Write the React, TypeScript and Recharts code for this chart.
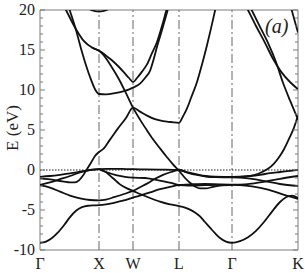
import { LineChart, Line, XAxis, YAxis, ReferenceLine, ReferenceArea } from "recharts";

// k positions of the high-symmetry points along the path and their labels
const K_TICKS = [0, 59, 93, 139, 192, 258];
const K_LABELS = ["Γ", "X", "W", "L", "Γ", "K"];
const E_MAJOR = [-10, -5, 0, 5, 10, 15, 20];
const E_MINOR = Array.from({ length: 31 }, (_, i) => i - 10);

// bands as [k, E(eV)]
const band1: [number, number][] = [[0, -9.1], [6, -8.95], [12, -8.5], [18, -7.8], [24, -6.9], [30, -5.9], [36, -5.1], [42, -4.65], [48, -4.47], [54, -4.42], [59, -4.4], [66, -4.3], [74, -4.1], [84, -3.8], [93, -3.45], [100, -3.2], [110, -2.8], [120, -2.4], [130, -2.1], [139, -1.9], [150, -1.95], [165, -1.9], [180, -1.85], [192, -1.85], [200, -1.88], [212, -2.05], [228, -2.45], [245, -3.15], [258, -3.6]];
const band2: [number, number][] = [[0, -1.9], [10, -2.2], [20, -2.7], [30, -3.2], [40, -3.55], [50, -3.75], [59, -3.8], [66, -3.7], [74, -3.4], [84, -3.0], [93, -2.6], [100, -2.15], [107, -1.7], [115, -1.1], [123, -0.6], [131, -0.25], [139, 0], [148, -0.3], [157, -0.55], [166, -0.75], [175, -0.83], [184, -0.85], [192, -0.85], [200, -0.85], [210, -0.75], [220, -0.6], [230, -0.4], [240, -0.25], [250, -0.1], [258, 0]];
const band3: [number, number][] = [[0, -1.85], [10, -1.55], [20, -1.15], [30, -0.75], [40, -0.3], [48, -0.05], [54, 0.07], [59, 0.1], [65, -0.2], [70, -0.7], [75, -1.25], [80, -1.8], [87, -2.3], [93, -2.6], [100, -3.0], [110, -3.5], [120, -3.95], [130, -4.3], [139, -4.5], [145, -4.7], [150, -4.95], [155, -5.3], [160, -5.8], [165, -6.5], [170, -7.2], [175, -7.9], [180, -8.5], [186, -8.95], [192, -9.1], [200, -8.9], [208, -8.4], [216, -7.6], [224, -6.5], [232, -5.2], [240, -4.0], [246, -3.4], [252, -3.2], [258, -3.5]];
const band4: [number, number][] = [[0, -0.85], [10, -0.75], [20, -0.6], [30, -0.42], [40, -0.22], [50, -0.02], [59, 0.1], [66, 0.15], [76, 0.15], [86, 0.12], [93, 0.1], [105, 0.08], [120, 0.05], [139, 0], [148, -0.35], [157, -0.62], [166, -0.82], [175, -0.9], [184, -0.92], [192, -0.92], [200, -0.95], [212, -1.1], [225, -1.4], [240, -1.75], [258, -2.0]];
const band5: [number, number][] = [[59, 0.1], [66, -0.25], [72, -0.5], [77, -0.66], [85, -0.85], [93, -0.95], [105, -1.0], [115, -1.2], [125, -1.45], [132, -1.65], [139, -1.85], [150, -1.8], [165, -1.75], [180, -1.8], [192, -1.82], [200, -1.82], [212, -1.7], [225, -1.45], [240, -1.1], [258, -0.75]];
const band6: [number, number][] = [[0, -1.05], [8, -1.15], [16, -1.3], [24, -1.45], [30, -1.55], [35, -1.55], [39, -1.3], [43, -0.7], [47, 0.1], [51, 0.9], [55, 1.75], [59, 2.25], [63, 2.6], [70, 3.8], [78, 5.2], [86, 6.5], [93, 7.8], [100, 7.3], [107, 6.8], [115, 6.35], [123, 6.1], [131, 6.0], [139, 5.9], [143, 6.7], [147, 7.7], [151, 9.0], [157, 11.0], [162, 13.2], [167, 15.6], [171, 17.7], [175, 19.9], [179, 22]];
const band7: [number, number][] = [[16, 22.5], [26, 20.0], [36, 17.6], [44, 16.1], [52, 15.3], [59, 14.9], [63, 14.45], [68, 13.6], [74, 12.4], [80, 11.1], [86, 9.6], [93, 7.8], [100, 6.3], [107, 4.95], [113, 3.85], [120, 2.7], [127, 1.6], [133, 0.7], [139, -0.1], [145, -1.0], [150, -1.6], [155, -2.05], [160, -2.3], [166, -2.3], [173, -2.1], [180, -1.95], [192, -1.85]];
const band8: [number, number][] = [[52, 15.3], [59, 14.9], [63, 14.6], [68, 14.1], [73, 13.6], [78, 13.0], [84, 12.2], [89, 11.5], [93, 11.0], [97, 11.5], [102, 12.3], [107, 13.2], [112, 14.6], [117, 16.0], [122, 18.0], [126, 19.8], [130, 21.6]];
const band9: [number, number][] = [[20, 24.0], [29.7, 20.0], [36, 17.5], [41, 15.2], [46, 13.1], [51, 11.3], [55, 10.1], [59, 9.5], [66, 9.45], [75, 9.6], [84, 9.85], [93, 10.3], [100, 10.8], [105, 11.5], [110, 12.4], [114, 14.0], [117, 15.4], [122, 17.5], [127, 19.7], [131, 21.5]];
const band10: [number, number][] = [[45, 21.5], [51, 20.0], [59, 19.8], [67, 20.0], [73, 21.5]];
const band11: [number, number][] = [[192, -0.85], [205, -0.8], [215, -0.6], [222, -0.25], [228, 0.15], [234, 0.8], [239, 1.6], [244, 2.6], [249, 3.9], [254, 5.3], [258, 6.8]];
const band12: [number, number][] = [[200, 22.0], [208, 20.0], [216, 18.0], [225, 15.9], [233, 13.9], [241, 12.3], [250, 11.0], [258, 10.1]];
const band13: [number, number][] = [[204, 22.0], [211.7, 20.0], [220, 17.9], [228, 15.9], [236, 13.5], [243, 10.9], [250, 8.7], [255, 7.2], [258, 6.3]];
const band14: [number, number][] = [[246, 22.5], [251.7, 20.0], [255, 18.5], [258, 17.2]];

const BANDS = [band1, band2, band3, band4, band5, band6, band7, band8, band9, band10, band11, band12, band13, band14];

const FONT = "Liberation Serif, Times New Roman, DejaVu Serif, serif";
const FRAME = "#7a7a7a";
const INK = "#111";
const PL = 40; // plot left/right in px (fixed margins below)
const PR = 298;

function YTick({ y, payload }: any) {
  const v = payload.value;
  const major = E_MAJOR.includes(v);
  const len = major ? 5 : 3;
  return (
    <g>
      <line x1={PL} x2={PL + len} y1={y} y2={y} stroke={FRAME} />
      <line x1={PR} x2={PR - len} y1={y} y2={y} stroke={FRAME} />
      {major && (
        <text x={35} y={y} dy="0.33em" textAnchor="end" style={{ fontSize: 16, fontFamily: FONT }} fill="#222">
          {v}
        </text>
      )}
    </g>
  );
}

export default function App() {
  return (
    <div style={{ position: "absolute", left: 0, top: 0, width: 305, height: 273, background: "#fff", fontFamily: FONT }}>
      <LineChart width={305} height={273} margin={{ top: 10, right: 7, bottom: 0, left: 0 }} style={{ fontFamily: FONT }}>
        <XAxis
          type="number"
          dataKey="k"
          domain={[0, 258]}
          ticks={K_TICKS}
          interval={0}
          allowDataOverflow
          tickLine={false}
          axisLine={false}
          height={23}
          tickFormatter={(v) => K_LABELS[K_TICKS.indexOf(v)]}
          tick={{ fontSize: 16, fontFamily: FONT, fill: "#222", style: { fontFamily: FONT } }}
        />
        <YAxis
          type="number"
          domain={[-10, 20]}
          ticks={E_MINOR}
          interval={0}
          allowDataOverflow
          tickLine={false}
          axisLine={false}
          width={40}
          tick={<YTick />}
        />
        <ReferenceArea x1={0} x2={258} y1={-10} y2={20} fill="none" stroke={FRAME} strokeWidth={1} />
        {K_TICKS.slice(1, -1).map((k) => (
          <ReferenceLine key={k} x={k} stroke="#666" strokeWidth={1} strokeDasharray="9 3 2 3" />
        ))}
        <ReferenceLine y={0} stroke="#222" strokeWidth={1.2} strokeDasharray="1.5 1.5" />
        {BANDS.map((b, i) => (
          <Line
            key={i}
            data={b.map(([k, e]) => ({ k, e }))}
            dataKey="e"
            type="monotone"
            stroke={INK}
            strokeWidth={1.8}
            dot={false}
            isAnimationActive={false}
          />
        ))}
      </LineChart>
      <div
        style={{
          position: "absolute",
          left: 12,
          top: 128,
          transform: "translate(-50%, -50%) rotate(-90deg)",
          fontFamily: FONT,
          fontSize: 17,
          color: "#222",
          whiteSpace: "nowrap",
          lineHeight: 1,
        }}
      >
        E (eV)
      </div>
      <div
        style={{
          position: "absolute",
          left: 265,
          top: 16,
          fontFamily: FONT,
          fontStyle: "italic",
          fontSize: 20,
          color: "#222",
          lineHeight: 1,
        }}
      >
        (a)
      </div>
    </div>
  );
}
